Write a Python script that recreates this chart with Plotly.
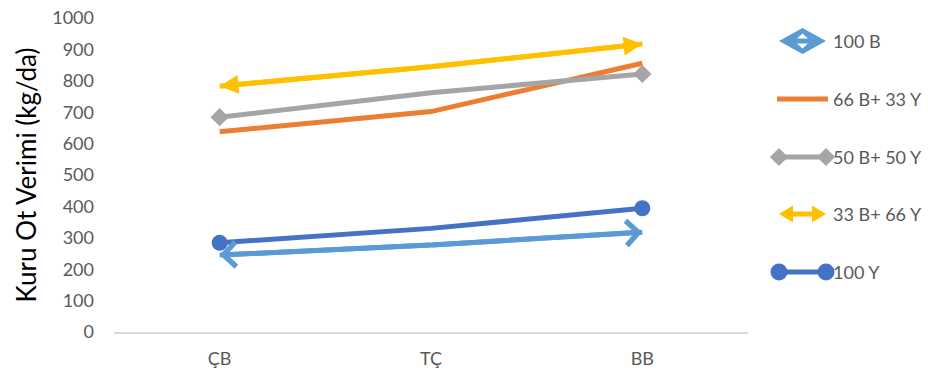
import plotly.graph_objects as go

# Dry matter yield (kg/da) by location and mixture ratio
categories = ["ÇB", "TÇ", "BB"]
b100 = [245, 277, 318]          # 100 B
b66_y33 = [638, 702, 856]       # 66 B+ 33 Y
b50_y50 = [684, 762, 822]       # 50 B+ 50 Y
b33_y66 = [783, 845, 917]       # 33 B+ 66 Y
y100 = [284, 330, 394]          # 100 Y

series_names = ["100 B", "66 B+ 33 Y", "50 B+ 50 Y", "33 B+ 66 Y", "100 Y"]
y_ticks = [0, 100, 200, 300, 400, 500, 600, 700, 800, 900, 1000]

C_LBLUE = "#5B9BD5"
C_ORANGE = "#ED7D31"
C_GRAY = "#A5A5A5"
C_YELLOW = "#FFC000"
C_DBLUE = "#4472C4"
TXT = "#595959"
FONT = "Lato"
LW = 5

idx = list(range(len(categories)))
end_sizes = lambda s: [s if i in (0, len(categories) - 1) else 0 for i in idx]

fig = go.Figure()

fig.add_trace(go.Scatter(x=idx, y=b100, mode="lines", name=series_names[0],
                         line=dict(color=C_LBLUE, width=LW)))
fig.add_trace(go.Scatter(x=idx, y=b66_y33, mode="lines", name=series_names[1],
                         line=dict(color=C_ORANGE, width=LW)))
fig.add_trace(go.Scatter(x=idx, y=b50_y50, mode="lines+markers", name=series_names[2],
                         line=dict(color=C_GRAY, width=LW),
                         marker=dict(symbol="diamond", size=end_sizes(14), color=C_GRAY,
                                     opacity=1, line=dict(width=0))))
fig.add_trace(go.Scatter(x=idx, y=b33_y66, mode="lines", name=series_names[3],
                         line=dict(color=C_YELLOW, width=LW)))
fig.add_trace(go.Scatter(x=idx, y=y100, mode="lines+markers", name=series_names[4],
                         line=dict(color=C_DBLUE, width=LW),
                         marker=dict(symbol="circle", size=end_sizes(16), color=C_DBLUE,
                                     opacity=1, line=dict(width=0))))


def end_arrows(values, color, head, size):
    """Arrowheads on both ends of a series, each drawn along its end segment."""
    first, last = idx[0], idx[-1]
    out = []
    for tip, tail in ((first, first + 1), (last, last - 1)):
        out.append(dict(x=tip, y=values[tip], ax=tail, ay=values[tail],
                        xref="x", yref="y", axref="x", ayref="y",
                        text="", showarrow=True, arrowhead=head,
                        arrowsize=size, arrowwidth=LW, arrowcolor=color,
                        standoff=0))
    return out


annotations = []
annotations += end_arrows(b100, C_LBLUE, 4, 0.95)
annotations += end_arrows(b33_y66, C_YELLOW, 2, 0.75)

# ---- legend drawn on a pixel-unit helper axis to the right of the plot ----
rows = [41, 99, 157, 214, 272]
ix0, ix1 = 779, 826
icx = (ix0 + ix1) / 2
text_x = 831

shapes = []
# 100 B: diamond with white double arrow
r0 = rows[0]
shapes.append(dict(type="path", xref="x2", yref="y2",
                   path=f"M{ix0},{r0} L{icx},{r0-13} L{ix1},{r0} L{icx},{r0+13} Z",
                   fillcolor=C_LBLUE, line=dict(width=0)))
shapes.append(dict(type="path", xref="x2", yref="y2",
                   path=f"M{icx},{r0-7.5} L{icx+5.5},{r0-2.5} L{icx-5.5},{r0-2.5} Z",
                   fillcolor="white", line=dict(width=0)))
shapes.append(dict(type="path", xref="x2", yref="y2",
                   path=f"M{icx},{r0+7.5} L{icx+5.5},{r0+2.5} L{icx-5.5},{r0+2.5} Z",
                   fillcolor="white", line=dict(width=0)))
# 33 B+ 66 Y: double-headed arrow
r3 = rows[3]
shapes.append(dict(type="line", xref="x2", yref="y2", x0=ix0 + 10, x1=ix1 - 10,
                   y0=r3, y1=r3, line=dict(color=C_YELLOW, width=LW)))
shapes.append(dict(type="path", xref="x2", yref="y2",
                   path=f"M{ix0},{r3} L{ix0+14},{r3-8.5} L{ix0+14},{r3+8.5} Z",
                   fillcolor=C_YELLOW, line=dict(width=0)))
shapes.append(dict(type="path", xref="x2", yref="y2",
                   path=f"M{ix1},{r3} L{ix1-14},{r3-8.5} L{ix1-14},{r3+8.5} Z",
                   fillcolor=C_YELLOW, line=dict(width=0)))

# line-style legend icons
fig.add_trace(go.Scatter(x=[ix0 - 2, ix1 + 2], y=[rows[1]] * 2, xaxis="x2", yaxis="y2",
                         mode="lines", line=dict(color=C_ORANGE, width=LW),
                         showlegend=False, hoverinfo="skip", cliponaxis=False))
fig.add_trace(go.Scatter(x=[ix0, ix1], y=[rows[2]] * 2, xaxis="x2", yaxis="y2",
                         mode="lines+markers", line=dict(color=C_GRAY, width=LW),
                         marker=dict(symbol="diamond", size=14, color=C_GRAY),
                         showlegend=False, hoverinfo="skip", cliponaxis=False))
fig.add_trace(go.Scatter(x=[ix0, ix1], y=[rows[4]] * 2, xaxis="x2", yaxis="y2",
                         mode="lines+markers", line=dict(color=C_DBLUE, width=LW),
                         marker=dict(symbol="circle", size=17, color=C_DBLUE),
                         showlegend=False, hoverinfo="skip", cliponaxis=False))

for name, ry in zip(series_names, rows):
    annotations.append(dict(x=text_x, y=ry, xref="x2", yref="y2", text=name,
                            showarrow=False, xanchor="left", yanchor="middle",
                            font=dict(family=FONT, size=18, color=TXT)))

W, H = 928, 378
ML, MR, MT, MB = 114, 2, 18, 46
pw = W - ML - MR
plot_right = 748
leg_left = 760

fig.update_layout(
    width=W, height=H,
    margin=dict(l=ML, r=MR, t=MT, b=MB),
    paper_bgcolor="white", plot_bgcolor="white",
    showlegend=False,
    font=dict(family=FONT, color=TXT),
    xaxis=dict(domain=[0, (plot_right - ML) / pw],
               tickmode="array", tickvals=idx, ticktext=categories,
               range=[-0.5, len(categories) - 0.5],
               showgrid=False, zeroline=False, showline=True,
               linecolor="#D9D9D9", linewidth=2, ticks="",
               ticklabelstandoff=9,
               tickfont=dict(family=FONT, size=18, color=TXT)),
    yaxis=dict(range=[0, 1000], tickvals=y_ticks,
               showgrid=False, zeroline=False, showline=False, ticks="",
               ticklabelstandoff=19,
               tickfont=dict(family=FONT, size=18, color=TXT),
               title=dict(text="Kuru Ot Verimi (kg/da)", standoff=8,
                          font=dict(family=FONT, size=26, color="#000000"))),
    xaxis2=dict(domain=[(leg_left - ML) / pw, 1], range=[leg_left, W - MR],
                anchor="y2", visible=False, fixedrange=True),
    yaxis2=dict(domain=[0, 1], range=[H - MB, MT], anchor="x2",
                visible=False, fixedrange=True),
    shapes=shapes,
    annotations=annotations,
)

fig.write_html("out.html")
